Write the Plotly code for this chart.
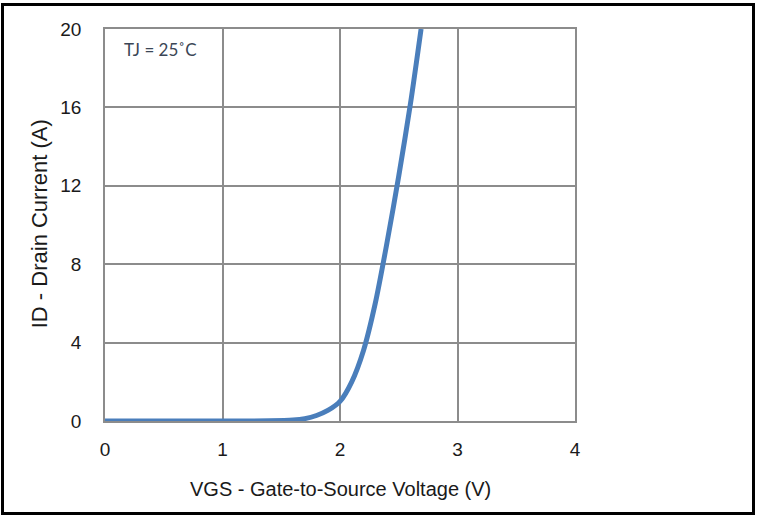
import plotly.graph_objects as go

# Data
vgs = [0.0, 0.5, 1.0, 1.4, 1.6, 1.7, 1.8, 1.9, 2.0, 2.1, 2.2, 2.3, 2.4, 2.5, 2.6, 2.69]
id_a = [0.0, 0.0, 0.0, 0.01, 0.05, 0.12, 0.28, 0.55, 1.0, 2.0, 3.6, 6.0, 9.1, 12.5, 16.2, 20.0]

x_ticks = [0, 1, 2, 3, 4]
y_ticks = [0, 4, 8, 12, 16, 20]

W, H = 759, 516
L, R, T, B = 105, 575, 28.5, 421

def px(x):
    return (x - L) / (R - L)

def py(y):
    return (B - y) / (B - T)

fig = go.Figure()
fig.add_trace(go.Scatter(
    x=vgs, y=id_a, mode="lines",
    line=dict(color="#4A7EBB", width=5, shape="spline", smoothing=0.8),
    showlegend=False, hoverinfo="skip",
))

axis_common = dict(
    showgrid=True, gridcolor="#8C8C8C", gridwidth=1.5,
    showline=True, linecolor="#8C8C8C", linewidth=1.5, mirror=True,
    zeroline=False, ticks="",
    tickfont=dict(family="Liberation Sans, Arial", size=19, color="#1a1a1a"),
)

fig.update_xaxes(
    range=[0, 4], tickvals=x_ticks, ticktext=[str(v) for v in x_ticks],
    ticklabelstandoff=10,
    **axis_common,
)
fig.update_yaxes(
    range=[0, 20], tickvals=y_ticks, ticktext=[str(v) for v in y_ticks],
    ticklabelstandoff=18,
    **axis_common,
)

title_font = dict(family="Liberation Sans, Arial", color="#1a1a1a")
fig.add_annotation(
    x=px(340), y=py(489), xref="paper", yref="paper",
    text="VGS - Gate-to-Source Voltage (V)", showarrow=False,
    xanchor="center", yanchor="middle", font=dict(size=20, **title_font),
)
fig.add_annotation(
    x=px(39), y=py(224), xref="paper", yref="paper",
    text="ID - Drain Current (A)", showarrow=False, textangle=-90,
    xanchor="center", yanchor="middle", font=dict(size=22, **title_font),
)

fig.add_annotation(
    x=px(122), y=py(49), xref="paper", yref="paper",
    text="TJ = 25˚C", showarrow=False, xanchor="left", yanchor="middle",
    font=dict(family="Lato, Open Sans", size=17, color="#3B4656"),
)

# outer black frame
fig.add_shape(
    type="rect", xref="paper", yref="paper",
    x0=px(2.5), x1=px(753.5), y0=py(4), y1=py(513.5),
    line=dict(color="black", width=3), fillcolor="rgba(0,0,0,0)", layer="above",
)

fig.update_layout(
    width=W, height=H,
    margin=dict(l=L, r=W - R, t=T, b=H - B, pad=0),
    paper_bgcolor="white", plot_bgcolor="white",
)

fig.write_html(
    "out.html",
    config={"displayModeBar": False},
    post_script="document.body.style.margin='0';document.body.style.overflow='hidden';",
)
